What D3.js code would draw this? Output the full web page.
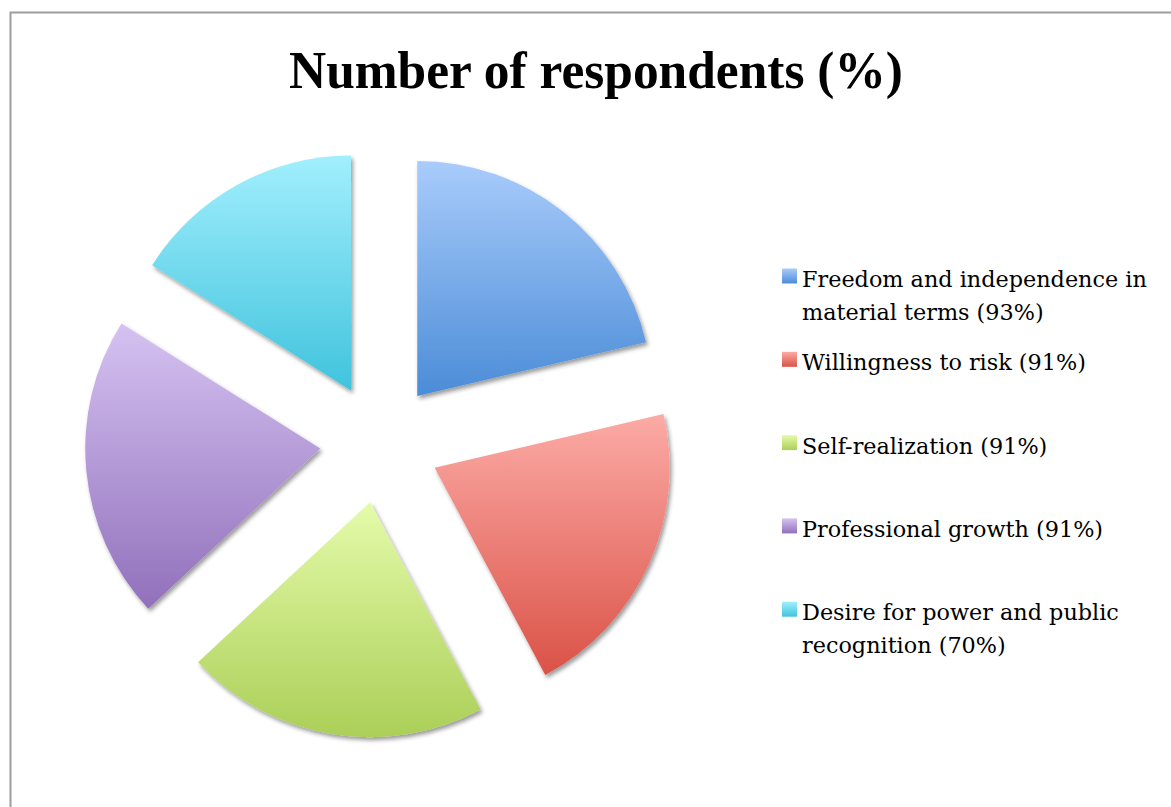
<!DOCTYPE html>
<html>
<head>
<meta charset="utf-8">
<script src="https://cdn.jsdelivr.net/npm/d3@7"></script>
<style>
  html, body { margin: 0; padding: 0; background: #fff; overflow: hidden; }
  svg { display: block; }
</style>
</head>
<body>
<svg id="chart" width="1171" height="807"></svg>
<script>
// Survey results: share of respondents naming each motive
const categories = [
  "Freedom and independence in material terms (93%)",
  "Willingness to risk (91%)",
  "Self-realization (91%)",
  "Professional growth (91%)",
  "Desire for power and public recognition (70%)"
];
const values = [93, 91, 91, 91, 70];
// Legend text broken onto lines
const legendLines = [
  ["Freedom and independence in", "material terms (93%)"],
  ["Willingness to risk (91%)"],
  ["Self-realization (91%)"],
  ["Professional growth (91%)"],
  ["Desire for power and public", "recognition (70%)"]
];
// Gradient stops per slice: [top, bottom]
const sliceColors = [
  ["#a9ccfb", "#4b8cd7"],
  ["#fcaba6", "#da5247"],
  ["#e5fbaa", "#abcf58"],
  ["#d5c2f1", "#9170bb"],
  ["#a2effd", "#40c3dd"]
];
const title = "Number of respondents (%)";

const W = 1171, H = 807;
const svg = d3.select("#chart");
const defs = svg.append("defs");

// soft drop shadow under each slice
const shadow = defs.append("filter").attr("id", "shadow")
  .attr("x", "-20%").attr("y", "-20%").attr("width", "140%").attr("height", "140%");
shadow.append("feDropShadow")
  .attr("dx", 2).attr("dy", 3).attr("stdDeviation", 2.2)
  .attr("flood-color", "#000").attr("flood-opacity", 0.4);

sliceColors.forEach((c, i) => {
  const g = defs.append("linearGradient").attr("id", "grad" + i)
    .attr("x1", 0).attr("y1", 0).attr("x2", 0).attr("y2", 1);
  g.append("stop").attr("offset", "0%").attr("stop-color", c[0]);
  g.append("stop").attr("offset", "100%").attr("stop-color", c[1]);
});

// chart frame
svg.append("rect")
  .attr("x", 10.5).attr("y", 12.5)
  .attr("width", W + 20).attr("height", H + 20)
  .attr("fill", "none").attr("stroke", "#9d9d9d").attr("stroke-width", 2);

// title
svg.append("text")
  .attr("x", 596).attr("y", 88)
  .attr("text-anchor", "middle")
  .attr("font-family", "'Liberation Serif', 'DejaVu Serif', serif")
  .attr("font-weight", "bold")
  .attr("font-size", 52)
  .attr("textLength", 614)
  .attr("lengthAdjust", "spacingAndGlyphs")
  .attr("fill", "#000")
  .text(title);

// exploded pie
const cx = 380, cy = 443, radius = 235, explode = 60;
const pie = d3.pie().sort(null).value(d => d).startAngle(0).endAngle(2 * Math.PI);
const arc = d3.arc().innerRadius(0).outerRadius(radius);
const arcs = pie(values);

const pieG = svg.append("g").attr("transform", `translate(${cx},${cy})`);
pieG.selectAll("path")
  .data(arcs)
  .join("path")
  .attr("transform", d => {
    const a = (d.startAngle + d.endAngle) / 2;
    return `translate(${Math.sin(a) * explode},${-Math.cos(a) * explode})`;
  })
  .attr("d", arc)
  .attr("fill", (d, i) => `url(#grad${i})`)
  .attr("filter", "url(#shadow)");

// legend
const legendX = 782, legendY0 = 276, legendStep = 83.3, lineH = 33;
const legendFont = "'DejaVu Serif', 'Liberation Serif', serif";

// size the legend font so the widest line spans the legend column
const probe = svg.append("text")
  .attr("font-family", legendFont).attr("font-size", 20)
  .text(legendLines[0][0]);
const legendSize = 20 * 345 / probe.node().getComputedTextLength();
probe.remove();

const leg = svg.append("g");
legendLines.forEach((lines, i) => {
  const yc = legendY0 + i * legendStep;
  leg.append("rect")
    .attr("x", legendX).attr("y", yc - 7.5)
    .attr("width", 15).attr("height", 15)
    .attr("fill", `url(#grad${i})`);
  const t = leg.append("text")
    .attr("font-family", legendFont)
    .attr("font-size", legendSize)
    .attr("fill", "#000");
  lines.forEach((ln, j) => {
    t.append("tspan")
      .attr("x", legendX + 20)
      .attr("y", yc + 11 + j * lineH)
      .text(ln);
  });
});
</script>
</body>
</html>
